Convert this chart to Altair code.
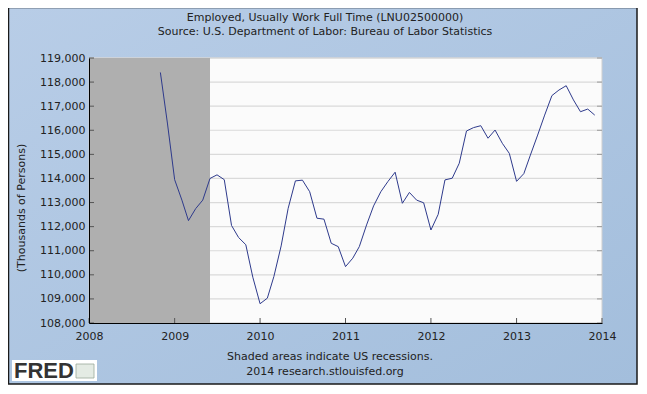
import altair as alt
import pandas as pd

# ---- data ----
months = [
    "2008-11", "2008-12",
    "2009-01", "2009-02", "2009-03", "2009-04", "2009-05", "2009-06",
    "2009-07", "2009-08", "2009-09", "2009-10", "2009-11", "2009-12",
    "2010-01", "2010-02", "2010-03", "2010-04", "2010-05", "2010-06",
    "2010-07", "2010-08", "2010-09", "2010-10", "2010-11", "2010-12",
    "2011-01", "2011-02", "2011-03", "2011-04", "2011-05", "2011-06",
    "2011-07", "2011-08", "2011-09", "2011-10", "2011-11", "2011-12",
    "2012-01", "2012-02", "2012-03", "2012-04", "2012-05", "2012-06",
    "2012-07", "2012-08", "2012-09", "2012-10", "2012-11", "2012-12",
    "2013-01", "2013-02", "2013-03", "2013-04", "2013-05", "2013-06",
    "2013-07", "2013-08", "2013-09", "2013-10", "2013-11", "2013-12",
]
employed = [
    118400, 116300,
    113950, 113100, 112250, 112750, 113100, 114000,
    114150, 113950, 112050, 111550, 111250, 109900,
    108800, 109030, 109930, 111200, 112760, 113900,
    113930, 113450, 112350, 112310, 111310, 111170,
    110340, 110690, 111170, 112070, 112860, 113450,
    113870, 114260, 112970, 113420, 113100, 112990,
    111860, 112510, 113940, 114010, 114630, 115970,
    116110, 116190, 115670, 116010, 115460, 115040,
    113880, 114200, 114970, 115800, 116630, 117440,
    117670, 117850, 117260, 116770, 116880, 116630,
]
y_ticks = [108000, 109000, 110000, 111000, 112000, 113000,
           114000, 115000, 116000, 117000, 118000, 119000]
year_ticks = [2008, 2009, 2010, 2011, 2012, 2013, 2014]
recession_start = ["2008-01-01T00:00:00"]
recession_end = ["2009-06-01T00:00:00"]

title_text = "Employed, Usually Work Full Time (LNU02500000)"
subtitle_text = "Source: U.S. Department of Labor: Bureau of Labor Statistics"
y_title = "(Thousands of Persons)"
note_1 = "Shaded areas indicate US recessions."
note_2 = "2014 research.stlouisfed.org"

# ---- tables ----
W, H = 513, 265
FONT = "DejaVu Sans"
TXT = "#222222"

df = pd.DataFrame({"date": [m + "-01T00:00:00" for m in months], "value": employed})
ticks_df = pd.DataFrame({"tick": y_ticks})
years_df = pd.DataFrame({"year": [f"{y}-01-01T00:00:00" for y in year_ticks]})
rec_df = pd.DataFrame({"start": recession_start, "end": recession_end})
one = pd.DataFrame({"k": [0]})

x_scale = alt.Scale(domain=[alt.DateTime(year=2008, month=1, date=1),
                            alt.DateTime(year=2014, month=1, date=1)])
y_scale = alt.Scale(domain=[108000, 119000], nice=False, zero=False)

x_axis = alt.Axis(
    values=[alt.DateTime(year=y, month=1, date=1) for y in year_ticks],
    format="%Y", title=None, grid=False, ticks=False, tickSize=0,
    labelFlush=False, labelPadding=7, labelFont=FONT, labelFontSize=11,
    labelColor=TXT, domainColor="#000000", domainWidth=1, zindex=1,
)
y_axis = alt.Axis(
    values=y_ticks, format=",.0f", title=None, grid=False, ticks=False, tickSize=0,
    labelPadding=4, labelFont=FONT, labelFontSize=11, labelColor=TXT,
    domainColor="#000000", domainWidth=1, zindex=1,
)

# background panel with frame
panel = alt.Chart(one).mark_rect(
    fill=alt.Gradient(
        gradient="linear",
        stops=[alt.GradientStop(color="#b8cde7", offset=0),
               alt.GradientStop(color="#a3bedc", offset=1)],
        x1=0, x2=1, y1=0, y2=1,
    ),
    stroke="#1a1a1a", strokeWidth=1.5,
).encode(x=alt.value(-80.5), x2=alt.value(548), y=alt.value(-50.5), y2=alt.value(326))

plot_bg = alt.Chart(one).mark_rect(fill="#fbfbfb", stroke="#cfcfcf", strokeWidth=1).encode(
    x=alt.value(0), x2=alt.value(W), y=alt.value(0), y2=alt.value(H)
)

grid = alt.Chart(ticks_df).mark_rule(color="#dadada", strokeWidth=1.2).encode(
    y=alt.Y("tick:Q", scale=y_scale, axis=y_axis),
    x=alt.value(0), x2=alt.value(W),
)

recession = alt.Chart(rec_df).mark_rect(color="#afafaf").encode(
    x=alt.X("start:T", scale=x_scale, axis=x_axis),
    x2="end:T",
    y=alt.value(0), y2=alt.value(H),
)

yticks_left = alt.Chart(ticks_df).mark_rule(color="#555555").encode(
    y=alt.Y("tick:Q", scale=y_scale, axis=y_axis),
    x=alt.value(0), x2=alt.value(5),
)
yticks_right = alt.Chart(ticks_df).mark_rule(color="#9a9a9a").encode(
    y=alt.Y("tick:Q", scale=y_scale, axis=y_axis),
    x=alt.value(W - 5), x2=alt.value(W),
)
xticks = alt.Chart(years_df).mark_rule(color="#555555").encode(
    x=alt.X("year:T", scale=x_scale, axis=x_axis),
    y=alt.value(H), y2=alt.value(H - 5),
)

line = alt.Chart(df).mark_line(color="#2e3a8c", strokeWidth=1).encode(
    x=alt.X("date:T", scale=x_scale, axis=x_axis),
    y=alt.Y("value:Q", scale=y_scale, axis=y_axis),
)

title1 = alt.Chart(one).mark_text(
    text=title_text, font=FONT, fontSize=11, color=TXT, align="center", baseline="middle",
).encode(x=alt.value(236), y=alt.value(-40))
title2 = alt.Chart(one).mark_text(
    text=subtitle_text, font=FONT, fontSize=11, color=TXT, align="center", baseline="middle",
).encode(x=alt.value(236), y=alt.value(-26))

ytitle = alt.Chart(one).mark_text(
    text=y_title, angle=270, font=FONT, fontSize=11, color=TXT,
    align="center", baseline="middle",
).encode(x=alt.value(-67), y=alt.value(150))

note1 = alt.Chart(one).mark_text(
    text=note_1, font=FONT, fontSize=11, color=TXT, align="center", baseline="middle",
).encode(x=alt.value(241), y=alt.value(299))
note2 = alt.Chart(one).mark_text(
    text=note_2, font=FONT, fontSize=11, color=TXT, align="center", baseline="middle",
).encode(x=alt.value(236), y=alt.value(314))

logo_box = alt.Chart(one).mark_rect(fill="#ffffff").encode(
    x=alt.value(-77), x2=alt.value(8), y=alt.value(302), y2=alt.value(323)
)
logo_text = alt.Chart(one).mark_text(
    text="FRED", font="Liberation Sans", fontWeight="bold", fontSize=22,
    color="#333333", align="left", baseline="alphabetic",
).encode(x=alt.value(-75), y=alt.value(320))
logo_icon = alt.Chart(one).mark_rect(fill="#e4ebe4", stroke="#9aa89a", strokeWidth=0.8).encode(
    x=alt.value(-13), x2=alt.value(5), y=alt.value(306), y2=alt.value(320)
)

chart = alt.layer(
    panel, plot_bg, grid, recession, yticks_left, yticks_right, xticks, line,
    title1, title2, ytitle, note1, note2, logo_box, logo_text, logo_icon,
).properties(
    width=W, height=H,
    autosize=alt.AutoSizeParams(type="none"),
    padding={"left": 81, "top": 50, "right": 37, "bottom": 63},
    background="white",
).configure_view(strokeWidth=0)

chart.save("out.html", embed_options={"renderer": "svg", "actions": False})
